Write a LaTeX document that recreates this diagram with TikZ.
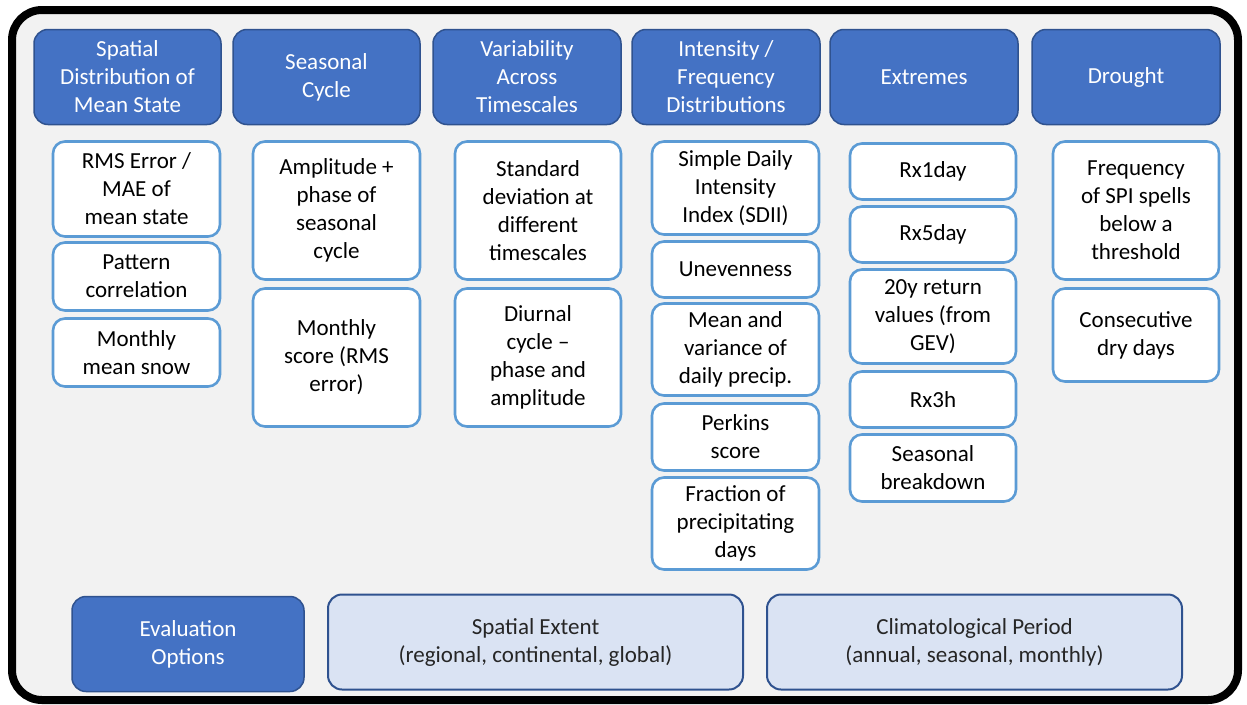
\documentclass[tikz,border=0pt]{standalone}
\usepackage{fontspec}
\setmainfont{Carlito}
\definecolor{hdrfill}{HTML}{4472C4}
\definecolor{hdrline}{HTML}{2F528F}
\definecolor{subline}{HTML}{5B9BD5}
\definecolor{optfill}{HTML}{DAE3F3}
\definecolor{bgfill}{HTML}{F2F2F2}
\newcommand{\mybox}[7]{\node[#6, minimum width={#4-#2}, minimum height={#5-#3}] (#1) at ({(#2+#4)/2},{(#3+#5)/2+1.5}) {#7};}
\tikzset{
  hdr/.style={draw=hdrline, fill=hdrfill, line width=1.5pt, rounded corners=14pt, text=white, align=center, inner sep=0pt, font=\fontsize{23}{28}\selectfont},
  sub/.style={draw=subline, fill=white, line width=2.6pt, rounded corners=12pt, text=black, align=center, inner sep=0pt, font=\fontsize{23}{28}\selectfont},
  opt/.style={draw=hdrline, fill=optfill, line width=2pt, rounded corners=14pt, text=black!85, align=center, inner sep=0pt, font=\fontsize{23}{28}\selectfont}
}
\begin{document}
\begin{tikzpicture}[x=1pt,y=-1pt]
\useasboundingbox (0,0) rectangle (1247,704);
\draw[line width=8pt, fill=bgfill, rounded corners=30pt] (12,10) rectangle (1238,700);
% headers
\mybox{h1}{34}{28}{221}{123}{hdr}{Spatial\\Distribution of\\Mean State}
\mybox{h2}{233}{28}{420}{123}{hdr}{Seasonal\\Cycle}
\mybox{h3}{433}{28}{621}{123}{hdr}{Variability\\Across\\Timescales}
\mybox{h4}{632}{28}{820}{123}{hdr}{Intensity /\\Frequency\\Distributions}
\mybox{h5}{830}{28}{1018}{123}{hdr}{Extremes}
\mybox{h6}{1032}{28}{1220}{123}{hdr}{Drought}
% column 1
\mybox{a1}{53}{140}{220}{235}{sub}{RMS Error /\\MAE of\\mean state}
\mybox{a2}{53}{241}{220}{309}{sub}{Pattern\\correlation}
\mybox{a3}{53}{317}{220}{385}{sub}{Monthly\\mean snow}
% column 2
\mybox{b1}{253}{140}{420}{278}{sub}{Amplitude +\\phase of\\seasonal\\cycle}
\mybox{b2}{253}{287}{420}{425}{sub}{Monthly\\score (RMS\\error)}
% column 3
\mybox{c1}{455}{140}{621}{278}{sub}{Standard\\deviation at\\different\\timescales}
\mybox{c2}{455}{287}{621}{425}{sub}{Diurnal\\cycle --\\phase and\\amplitude}
% column 4
\mybox{d1}{652}{140}{819}{233}{sub}{Simple Daily\\Intensity\\Index (SDII)}
\mybox{d2}{652}{240}{819}{296}{sub}{Unevenness}
\mybox{d3}{652}{302}{819}{394}{sub}{Mean and\\variance of\\daily precip.}
\mybox{d4}{652}{402}{819}{469}{sub}{Perkins\\score}
\mybox{d5}{652}{476}{819}{568}{sub}{Fraction of\\precipitating\\days}
% column 5
\mybox{e1}{850}{142}{1016}{198}{sub}{Rx1day}
\mybox{e2}{850}{205}{1016}{261}{sub}{Rx5day}
\mybox{e3}{850}{268}{1016}{362}{sub}{20y return\\values (from\\GEV)}
\mybox{e4}{850}{370}{1016}{426}{sub}{Rx3h}
\mybox{e5}{850}{433}{1016}{500}{sub}{Seasonal\\breakdown}
% column 6
\mybox{f1}{1053}{140}{1219}{278}{sub}{Frequency\\of SPI spells\\below a\\threshold}
\mybox{f2}{1053}{287}{1219}{380}{sub}{Consecutive\\dry days}
% bottom
\mybox{o1}{72}{595}{304}{690}{hdr}{Evaluation\\Options}
\mybox{o2}{328}{593}{743}{688}{opt}{Spatial Extent\\(regional, continental, global)}
\mybox{o3}{767}{593}{1182}{688}{opt}{Climatological Period\\(annual, seasonal, monthly)}
\end{tikzpicture}
\end{document}
